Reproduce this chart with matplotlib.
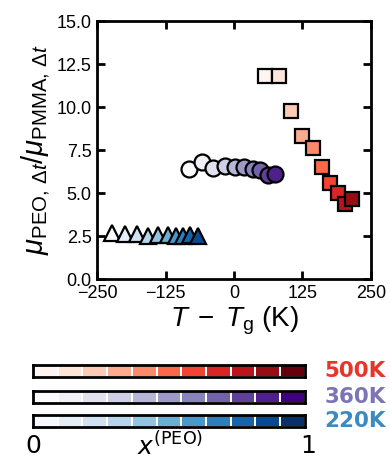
import matplotlib
matplotlib.use("Agg")
import matplotlib.pyplot as plt
import numpy as np

plt.rcParams["font.family"] = ["Liberation Sans", "DejaVu Sans"]
plt.rcParams["mathtext.fontset"] = "custom"
plt.rcParams["mathtext.rm"] = "Liberation Sans"
plt.rcParams["mathtext.it"] = "Liberation Sans:italic"
plt.rcParams["mathtext.bf"] = "Liberation Sans:bold"

# x^(PEO) steps used for the colours
x_peo = [0.0, 0.1, 0.2, 0.3, 0.4, 0.5, 0.6, 0.7, 0.8, 0.9]

# 500 K (squares)
t500 = [57, 82, 105, 125, 144, 161, 175, 190, 203, 215]
r500 = [11.8, 11.8, 9.77, 8.31, 7.6, 6.53, 5.56, 5.02, 4.36, 4.63]

# 360 K (circles)
t360 = [-83, -58, -38, -16, 2, 18, 34, 47, 63, 75]
r360 = [6.38, 6.82, 6.44, 6.57, 6.53, 6.49, 6.38, 6.34, 6.05, 6.09]

# 220 K (triangles)
t220 = [-223, -199, -178, -157, -139, -120, -106, -93, -80, -65]
r220 = [2.65, 2.6, 2.6, 2.5, 2.55, 2.55, 2.5, 2.5, 2.55, 2.5]

series = [
    ("500K", t500, r500, "s", 10, "Reds"),
    ("360K", t360, r360, "o", 11.5, "Purples"),
    ("220K", t220, r220, "^", 11.5, "Blues"),
]

fig = plt.figure(figsize=(3.9, 4.59), dpi=100)
ax = fig.add_axes([0.249, 0.392, 0.702, 0.562])

for name, tt, rr, mk, ms, cm in series:
    cmap = plt.get_cmap(cm)
    for t, r, xv in zip(tt, rr, x_peo):
        ax.plot(t, r, marker=mk, ms=ms, mfc=cmap(xv), mec="black", mew=1.6, ls="none")

ax.set_xlim(-250, 250)
ax.set_ylim(0, 15)
ax.set_xticks([-250, -125, 0, 125, 250])
ax.set_yticks(np.arange(0, 15.1, 2.5))
ax.set_yticklabels([f"{v:.1f}" for v in np.arange(0, 15.1, 2.5)])
ax.tick_params(direction="in", top=True, right=True, length=6, width=2, labelsize=13, pad=4)
for sp in ax.spines.values():
    sp.set_linewidth(2)
ax.set_xlabel(r"$T\;-\;T_{\rm g}$ (K)", fontsize=20, labelpad=2)
ax.set_ylabel(r"$\mu_{\rm PEO,\,\Delta\it{t}}/\mu_{\rm PMMA,\,\Delta\it{t}}$", fontsize=21, labelpad=3)

# colour bars for x^(PEO)
bar_vals = np.linspace(0, 1, 11).reshape(1, -1)
bottoms = [0.1786, 0.123, 0.0697]
for (name, tt, rr, mk, ms, cm), b in zip(series, bottoms):
    cax = fig.add_axes([0.0846, b, 0.697, 0.026])
    cax.pcolormesh(bar_vals, cmap=cm, vmin=0, vmax=1, edgecolors="white", linewidth=0.3)
    cax.set_xticks([])
    cax.set_yticks([])
    for sp in cax.spines.values():
        sp.set_linewidth(2)
    fig.text(0.99, b + 0.013, name, ha="right", va="center", fontsize=15.5,
             fontweight="bold", family="DejaVu Sans", color=plt.get_cmap(cm)(0.65))

fig.text(0.0846, 0.028, "0", ha="center", va="center", fontsize=18, family="DejaVu Sans")
fig.text(0.7900, 0.028, "1", ha="center", va="center", fontsize=18, family="DejaVu Sans")
fig.text(0.435, 0.028, r"$x^{\mathrm{(PEO)}}$", ha="center", va="center", fontsize=18,
         family="DejaVu Sans", math_fontfamily="dejavusans")

fig.savefig("out.png", dpi=100)
